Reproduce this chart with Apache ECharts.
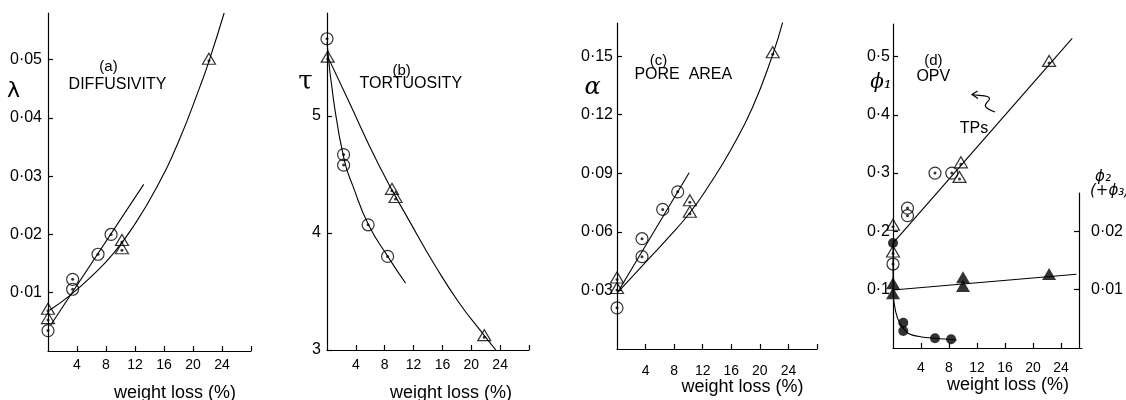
<!DOCTYPE html>
<html><head><meta charset="utf-8">
<script src="https://cdn.jsdelivr.net/npm/echarts@6/dist/echarts.min.js"></script>
<style>html,body{margin:0;padding:0;background:#fff}#c{width:1126px;height:400px}</style>
</head><body><div id="c"></div>
<script>
// ---- tick values ----
const xLabelTicks = [4, 8, 12, 16, 20, 24];
const xTickMarks = [4, 8, 12, 16, 20, 24, 28];
const aTicks = [0.01, 0.02, 0.03, 0.04, 0.05];
const bTicks = [3, 4, 5];
const cTicks = [0.03, 0.06, 0.09, 0.12, 0.15];
const dTicks = [0.1, 0.2, 0.3, 0.4, 0.5];
const dRightTicks = [0.01, 0.02];
const xName = 'weight loss (%)';

// ---- (a) diffusivity ----
const aCircles = [[0, 0.0035], [3.4, 0.0123], [3.4, 0.0106], [6.9, 0.0166], [8.7, 0.0200]];
const aTriangles = [[0, 0.0069], [0, 0.0053], [10.2, 0.0187], [10.2, 0.0173], [22.2, 0.0498]];
const aCircleLine = [[0.4, 0.0045], [13.2, 0.0286]];
const aTriangleCurve = [[0.2, 0.0070], [3, 0.0095], [6, 0.0128], [9, 0.0167], [12, 0.0218], [15, 0.0281], [18, 0.0359], [21, 0.0455], [22.2, 0.0497], [24.3, 0.058]];

// ---- (b) tortuosity ----
const bCircles = [[0, 5.66], [2.3, 4.67], [2.3, 4.58], [5.7, 4.07], [8.4, 3.80]];
const bTriangles = [[0.1, 5.49], [9.0, 4.36], [9.5, 4.29], [21.8, 3.11]];
const bCircleCurve = [[0, 5.63], [0.9, 5.14], [2.4, 4.62], [3.6, 4.40], [5.75, 4.07], [8.42, 3.80], [10.9, 3.57]];
const bTriangleCurve = [[0, 5.52], [2.9, 5.14], [7.27, 4.57], [11.9, 4.05], [15.1, 3.71], [18.35, 3.40], [21.6, 3.14], [23.4, 3.0]];

// ---- (c) pore area ----
const cCircles = [[0, 0.0211], [3.5, 0.0565], [3.5, 0.0473], [6.4, 0.0715], [8.5, 0.0805]];
const cTriangles = [[0, 0.0356], [0, 0.0302], [10.2, 0.0752], [10.2, 0.0693], [21.8, 0.151]];
const cCircleLine = [[0.33, 0.0305], [10.1, 0.0903]];
const cTriangleCurve = [[0.1, 0.029], [3.5, 0.0425], [7, 0.0563], [10.2, 0.0698], [13, 0.0845], [16, 0.1025], [19, 0.1240], [21.8, 0.1508], [23.2, 0.1674]];

// ---- (d) OPV (phi1 on left axis, phi2(+phi3) on right axis) ----
const dOpenTriangles = [[0, 0.208], [0, 0.162], [9.7, 0.315], [9.5, 0.29], [22.3, 0.489]];
const dOpenCircles = [[0, 0.144], [2.07, 0.240], [2.07, 0.227], [6.0, 0.300], [8.4, 0.300]];
const dOpenLine = [[0, 0.18], [25.6, 0.531]];
const dFilledCircles = [[0, 0.0180], [1.47, 0.00434], [1.47, 0.00292], [6.0, 0.00166], [8.3, 0.00149]];
const dFilledTriangles = [[0, 0.0111], [0, 0.00938], [10.0, 0.01213], [10.0, 0.01063], [22.3, 0.01269]];
const dFilledCircleCurve = [[0, 0.0180], [0.02, 0.0097], [0.39, 0.0062], [1.0, 0.0042], [2.19, 0.0025], [4.1, 0.0019], [6.0, 0.00166], [7.4, 0.00154], [9.1, 0.00137]];
const dFilledTriangleLine = [[0, 0.00995], [26.2, 0.01264]];

const FONT = "'Liberation Sans', Arial, sans-serif";
const BLACK = '#000';

function fmt(d) { return v => v.toFixed(d).replace('.', '\u00b7'); }

function xAx(grid, max, ticks, margin) {
  return {
    type: 'value', gridIndex: grid, min: 0, max: max,
    axisLine: { lineStyle: { color: BLACK, width: 1.2 } },
    axisTick: { inside: true, length: 5, customValues: ticks, lineStyle: { color: BLACK, width: 1.2 } },
    axisLabel: { customValues: xLabelTicks, fontSize: 14, fontFamily: FONT, color: BLACK, margin: margin },
    splitLine: { show: false }
  };
}
function yAx(grid, min, max, ticks, digits, margin, pos) {
  return {
    type: 'value', gridIndex: grid, min: min, max: max, position: pos || 'left',
    axisLine: { show: true, lineStyle: { color: BLACK, width: 1.2 } },
    axisTick: { show: true, inside: true, length: 5, customValues: ticks, lineStyle: { color: BLACK, width: 1.2 } },
    axisLabel: { customValues: ticks, fontSize: 16, fontFamily: FONT, color: BLACK, margin: margin, formatter: fmt(digits) },
    splitLine: { show: false }
  };
}
function ring(data, symbol, size, xi, yi, off) {
  return { type: 'scatter', xAxisIndex: xi, yAxisIndex: yi, data: data, symbol: symbol, symbolSize: size,
    symbolOffset: off || [0, 0], silent: true, z: 3,
    itemStyle: { color: 'rgba(0,0,0,0)', borderColor: BLACK, borderWidth: 1.2 } };
}
function dots(data, xi, yi) {
  return { type: 'scatter', xAxisIndex: xi, yAxisIndex: yi, data: data, symbol: 'circle', symbolSize: 3,
    silent: true, z: 4, itemStyle: { color: BLACK } };
}
function solid(data, symbol, size, xi, yi) {
  return { type: 'scatter', xAxisIndex: xi, yAxisIndex: yi, data: data, symbol: symbol, symbolSize: size,
    silent: true, z: 4, itemStyle: { color: BLACK } };
}
function curve(data, xi, yi, smooth) {
  return { type: 'line', xAxisIndex: xi, yAxisIndex: yi, data: data, showSymbol: false, symbol: 'none',
    smooth: smooth, silent: true, z: 2, lineStyle: { color: BLACK, width: 1.1 } };
}
const TRI = [13, 11], TRI_OFF = [0, -2], CIR = 12;

function txt(x, y, text, font, align) {
  return { type: 'text', x: x, y: y, silent: true,
    style: { text: text, font: font, fill: BLACK, align: align || 'center', verticalAlign: 'middle' } };
}

const option = {
  animation: false,
  backgroundColor: '#fff',
  grid: [
    { left: 48, top: 13, width: 203, height: 338 },
    { left: 327, top: 13, width: 202, height: 337 },
    { left: 617, top: 23, width: 200, height: 326 },
    { left: 893, top: 24, width: 189, height: 324 },
    { left: 1079, top: 193, width: 10, height: 155 }
  ],
  xAxis: [
    xAx(0, 28, xTickMarks, 7),
    xAx(1, 28, xTickMarks, 8),
    xAx(2, 28, xTickMarks, 15),
    xAx(3, 27, xLabelTicks, 13),
    { type: 'value', gridIndex: 4, min: 0, max: 1, show: false }
  ],
  yAxis: [
    yAx(0, 0, 0.058, aTicks, 2, 6),
    yAx(1, 3, 5.88, bTicks, 0, 6),
    yAx(2, 0, 0.167, cTicks, 2, 4),
    yAx(3, 0, 0.5557, dTicks, 1, 3),
    { type: 'value', gridIndex: 3, min: 0, max: 0.05557, show: false },
    yAx(4, 0, 0.02659, dRightTicks, 2, 3, 'right')
  ],
  series: [
    // (a)
    curve(aCircleLine, 0, 0, false),
    curve(aTriangleCurve, 0, 0, 0.5),
    ring(aCircles, 'circle', CIR, 0, 0), dots(aCircles, 0, 0),
    ring(aTriangles, 'triangle', TRI, 0, 0, TRI_OFF), dots(aTriangles, 0, 0),
    // (b)
    curve(bCircleCurve, 1, 1, 0.5),
    curve(bTriangleCurve, 1, 1, 0.5),
    ring(bCircles, 'circle', CIR, 1, 1), dots(bCircles, 1, 1),
    ring(bTriangles, 'triangle', TRI, 1, 1, TRI_OFF), dots(bTriangles, 1, 1),
    // (c)
    curve(cCircleLine, 2, 2, false),
    curve(cTriangleCurve, 2, 2, 0.5),
    ring(cCircles, 'circle', CIR, 2, 2), dots(cCircles, 2, 2),
    ring(cTriangles, 'triangle', TRI, 2, 2, TRI_OFF), dots(cTriangles, 2, 2),
    // (d)
    curve(dOpenLine, 3, 3, false),
    ring(dOpenCircles, 'circle', CIR, 3, 3), dots(dOpenCircles, 3, 3),
    ring(dOpenTriangles, 'triangle', TRI, 3, 3, TRI_OFF), dots(dOpenTriangles, 3, 3),
    curve(dFilledCircleCurve, 3, 4, 0.3),
    curve(dFilledTriangleLine, 3, 4, false),
    solid(dFilledCircles, 'circle', 10, 3, 4),
    solid(dFilledTriangles, 'triangle', [14, 12], 3, 4)
  ],
  graphic: [
    // axis names
    txt(175, 393, xName, '18px ' + FONT),
    txt(451, 393, xName, '18px ' + FONT),
    txt(742.5, 387, xName, '18px ' + FONT),
    txt(1008, 385, xName, '18px ' + FONT),
    // panel labels
    txt(13.5, 91, '\u03bb', "22px 'DejaVu Sans'"),
    txt(108.5, 67, '(a)', '15px ' + FONT),
    txt(117.5, 85, 'DIFFUSIVITY', '16px ' + FONT),
    txt(305.5, 82, '\u03c4', "26px 'DejaVu Serif'"),
    txt(401.7, 70.5, '(b)', '15px ' + FONT),
    txt(410.8, 84, 'TORTUOSITY', '16px ' + FONT),
    txt(592.5, 87.5, '\u03b1', "italic 24px 'DejaVu Serif'"),
    txt(658.5, 60.5, '(c)', '15px ' + FONT),
    txt(683.3, 74.5, 'PORE  AREA', '16px ' + FONT),
    txt(881, 83, '\u03d5\u2081', "italic 20px 'DejaVu Serif'"),
    txt(933.3, 60.5, '(d)', '15px ' + FONT),
    txt(933.3, 76.5, 'OPV', '16px ' + FONT),
    txt(974, 128.5, 'TPs', '16px ' + FONT),
    txt(1103, 177, '\u03d5\u2082', "italic 15px 'DejaVu Sans'"),
    txt(1090, 191, '(+\u03d5\u2083)', "italic 15px 'DejaVu Sans'", 'left'),
    // curly arrow pointing to TPs line
    { type: 'bezierCurve', silent: true,
      shape: { x1: 972, y1: 94.5, cpx1: 980, cpy1: 96, cpx2: 992, cpy2: 95, x2: 989, y2: 100 },
      style: { stroke: BLACK, fill: null, lineWidth: 1.2 } },
    { type: 'bezierCurve', silent: true,
      shape: { x1: 989, y1: 100, cpx1: 986, cpy1: 104, cpx2: 980, cpy2: 106, x2: 995, y2: 112 },
      style: { stroke: BLACK, fill: null, lineWidth: 1.2 } },
    { type: 'polyline', silent: true,
      shape: { points: [[977.5, 91], [972, 94.5], [978, 98.5]] },
      style: { stroke: BLACK, fill: null, lineWidth: 1.2 } }
  ]
};
const chart = echarts.init(document.getElementById('c'), null, { renderer: 'canvas' });
chart.setOption(option);
</script>
</body></html>
